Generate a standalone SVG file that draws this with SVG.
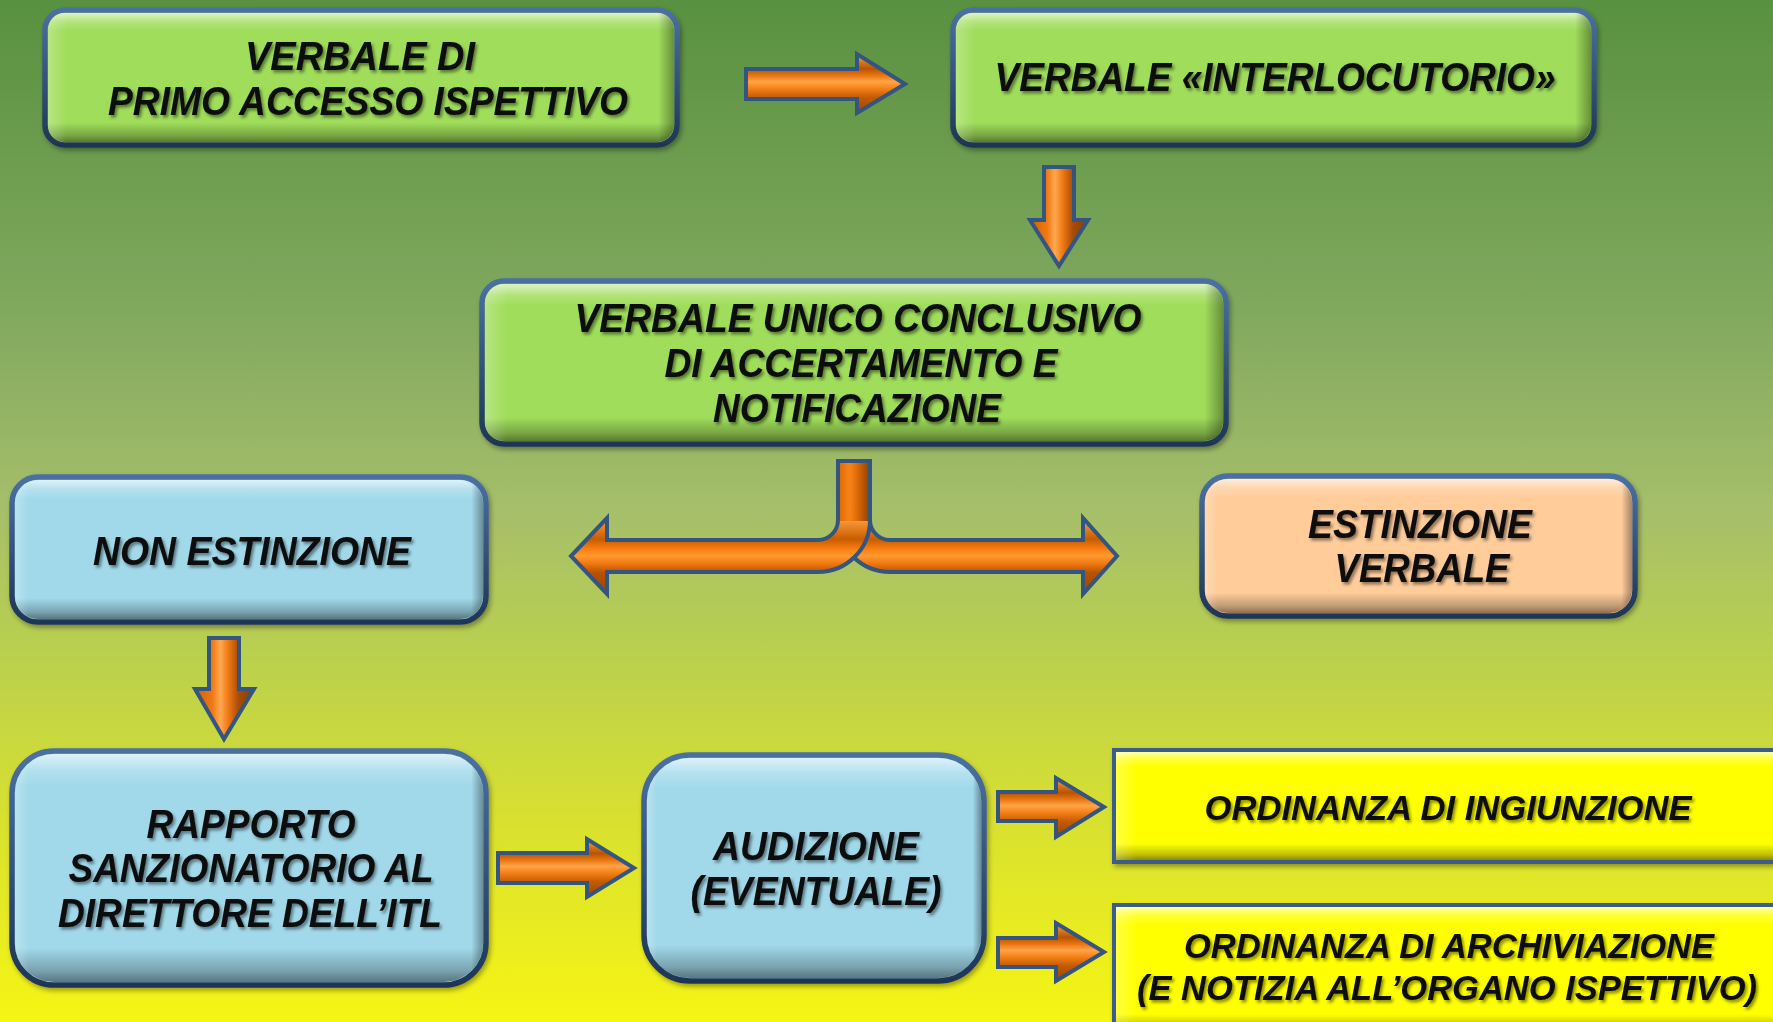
<svg xmlns="http://www.w3.org/2000/svg" width="1773" height="1022" viewBox="0 0 1773 1022">
<defs>
<style>
.box{stroke:url(#outl);stroke-width:5.5}
.green{fill:#9fdd5a}
.blue{fill:#a1d9ea}
.peach{fill:#ffcc9a}
.yellow{fill:#ffff00;stroke:#3b5d8c;stroke-width:4}
.bv{fill:url(#bevV)}
.bh{fill:url(#bevH)}
.t{font-family:"Liberation Sans Narrow","Liberation Sans",Arial,sans-serif;font-weight:bold;font-style:italic;font-size:40px;fill:#0b0b0b;text-anchor:middle}
.ty{font-size:35px}
.arr{stroke:#34557f;stroke-width:4;stroke-linejoin:miter}
.ah{fill:url(#agH)}
.av{fill:url(#agV)}
</style>
<linearGradient id="bg" x1="0" y1="0" x2="0" y2="1">
<stop offset="0" stop-color="#58913f"/>
<stop offset="0.3" stop-color="#80a85e"/>
<stop offset="0.5" stop-color="#a6bf6a"/>
<stop offset="0.63" stop-color="#b8cf50"/>
<stop offset="0.8" stop-color="#d8e030"/>
<stop offset="1" stop-color="#f6f514"/>
</linearGradient>
<linearGradient id="outl" x1="0" y1="0" x2="0" y2="1">
<stop offset="0" stop-color="#4a70a2"/>
<stop offset="1" stop-color="#1f3656"/>
</linearGradient>
<linearGradient id="bevV" x1="0" y1="0" x2="0" y2="1">
<stop offset="0" stop-color="#ffffff" stop-opacity="0.65"/>
<stop offset="0.07" stop-color="#ffffff" stop-opacity="0.2"/>
<stop offset="0.14" stop-color="#ffffff" stop-opacity="0"/>
<stop offset="0.85" stop-color="#000000" stop-opacity="0"/>
<stop offset="0.95" stop-color="#000000" stop-opacity="0.25"/>
<stop offset="1" stop-color="#000000" stop-opacity="0.45"/>
</linearGradient>
<linearGradient id="bevH" x1="0" y1="0" x2="1" y2="0">
<stop offset="0" stop-color="#ffffff" stop-opacity="0.25"/>
<stop offset="0.03" stop-color="#ffffff" stop-opacity="0"/>
<stop offset="0.975" stop-color="#000000" stop-opacity="0"/>
<stop offset="1" stop-color="#000000" stop-opacity="0.35"/>
</linearGradient>
<linearGradient id="agH" x1="0" y1="0" x2="0" y2="1">
<stop offset="0" stop-color="#ffa040"/>
<stop offset="0.25" stop-color="#b85400"/>
<stop offset="0.36" stop-color="#e87410"/>
<stop offset="0.47" stop-color="#ffa445"/>
<stop offset="0.58" stop-color="#f58218"/>
<stop offset="0.74" stop-color="#c45a00"/>
<stop offset="1" stop-color="#9a4600"/>
</linearGradient>
<linearGradient id="agV" x1="0" y1="0" x2="1" y2="0">
<stop offset="0" stop-color="#d06000"/>
<stop offset="0.3" stop-color="#f07a14"/>
<stop offset="0.43" stop-color="#ffa850"/>
<stop offset="0.56" stop-color="#f07a14"/>
<stop offset="0.74" stop-color="#a84c08"/>
<stop offset="1" stop-color="#8a3c00"/>
</linearGradient>
<linearGradient id="agSt" x1="0" y1="0" x2="1" y2="0">
<stop offset="0" stop-color="#e06c08"/>
<stop offset="0.35" stop-color="#f88418"/>
<stop offset="0.6" stop-color="#e06c08"/>
<stop offset="1" stop-color="#9a4600"/>
</linearGradient>
<linearGradient id="agS" gradientUnits="userSpaceOnUse" x1="0" y1="518" x2="0" y2="594">
<stop offset="0" stop-color="#ffa040"/>
<stop offset="0.28" stop-color="#c85c00"/>
<stop offset="0.4" stop-color="#f57c10"/>
<stop offset="0.5" stop-color="#ff9a30"/>
<stop offset="0.6" stop-color="#f07810"/>
<stop offset="0.72" stop-color="#b85200"/>
<stop offset="1" stop-color="#9a4600"/>
</linearGradient>
<filter id="bsh" x="-5%" y="-10%" width="110%" height="125%">
<feDropShadow dx="2" dy="3" stdDeviation="2.5" flood-color="#000" flood-opacity="0.35"/>
</filter>
<filter id="tsh" x="-5%" y="-20%" width="110%" height="140%">
<feDropShadow dx="2" dy="2.5" stdDeviation="1.6" flood-color="#000" flood-opacity="0.45"/>
</filter>
</defs>

<rect x="0" y="0" width="1773" height="1022" fill="url(#bg)"/>

<g id="connectors">
<path id="a1" class="arr ah" d="M746 69 L857 69 L857 54 L905 84 L857 113 L857 99 L746 99 Z"/>
<path id="a2" class="arr av" d="M1044 167 L1074 167 L1074 220 L1088 220 L1059 266 L1030 220 L1044 220 Z"/>
<g id="a3">
<path class="arr" fill="url(#agS)" d="M870 461 L838 461 L838 520 A52 52 0 0 0 890 572 L1083 572 L1083 594 L1117 556 L1083 518 L1083 540 L890 540 A20 20 0 0 1 870 520 Z"/>
<path class="arr" fill="url(#agS)" d="M838 461 L870 461 L870 520 A52 52 0 0 1 818 572 L607 572 L607 594 L571 556 L607 518 L607 540 L818 540 A20 20 0 0 0 838 520 Z"/>
<rect x="840" y="463" width="28" height="58" fill="url(#agSt)"/>
</g>
<path id="a7" class="arr av" d="M209 638 L239 638 L239 689 L254 689 L224 739 L195 689 L209 689 Z"/>
<path id="a4" class="arr ah" d="M498 853 L587 853 L587 839 L634 868 L587 897 L587 883 L498 883 Z"/>
<path id="a5" class="arr ah" d="M998 792 L1056 792 L1056 778 L1104 807 L1056 837 L1056 821 L998 821 Z"/>
<path id="a6" class="arr ah" d="M998 938 L1056 938 L1056 923 L1104 952 L1056 981 L1056 967 L998 967 Z"/>
</g>

<g id="n1">
<rect class="box green" x="45" y="10" width="632" height="135" rx="20" filter="url(#bsh)"/>
<rect class="bv" x="48" y="13" width="626" height="129" rx="17"/>
<rect class="bh" x="48" y="13" width="626" height="129" rx="17"/>
<g filter="url(#tsh)">
<text class="t" x="360" y="70" textLength="230" lengthAdjust="spacingAndGlyphs">VERBALE DI</text>
<text class="t" x="368" y="115" textLength="520" lengthAdjust="spacingAndGlyphs">PRIMO ACCESSO ISPETTIVO</text>
</g>
</g>

<g id="n2">
<rect class="box green" x="953" y="10" width="641" height="135" rx="20" filter="url(#bsh)"/>
<rect class="bv" x="956" y="13" width="635" height="129" rx="17"/>
<rect class="bh" x="956" y="13" width="635" height="129" rx="17"/>
<g filter="url(#tsh)">
<text class="t" x="1275" y="91" textLength="561" lengthAdjust="spacingAndGlyphs">VERBALE «INTERLOCUTORIO»</text>
</g>
</g>

<g id="n3">
<rect class="box green" x="482" y="281" width="744" height="163" rx="22" filter="url(#bsh)"/>
<rect class="bv" x="485" y="284" width="738" height="157" rx="19"/>
<rect class="bh" x="485" y="284" width="738" height="157" rx="19"/>
<g filter="url(#tsh)">
<text class="t" x="858" y="332" textLength="567" lengthAdjust="spacingAndGlyphs">VERBALE UNICO CONCLUSIVO</text>
<text class="t" x="861" y="377" textLength="393" lengthAdjust="spacingAndGlyphs">DI ACCERTAMENTO E</text>
<text class="t" x="857" y="422" textLength="288" lengthAdjust="spacingAndGlyphs">NOTIFICAZIONE</text>
</g>
</g>

<g id="n4">
<rect class="box blue" x="12" y="477" width="474" height="145" rx="26" filter="url(#bsh)"/>
<rect class="bv" x="15" y="480" width="468" height="139" rx="23"/>
<rect class="bh" x="15" y="480" width="468" height="139" rx="23"/>
<g filter="url(#tsh)">
<text class="t" x="252" y="565" textLength="318" lengthAdjust="spacingAndGlyphs">NON ESTINZIONE</text>
</g>
</g>

<g id="n5">
<rect class="box peach" x="1202" y="476" width="433" height="140" rx="26" filter="url(#bsh)"/>
<rect class="bv" x="1205" y="479" width="427" height="134" rx="23"/>
<rect class="bh" x="1205" y="479" width="427" height="134" rx="23"/>
<g filter="url(#tsh)">
<text class="t" x="1420" y="538" textLength="224" lengthAdjust="spacingAndGlyphs">ESTINZIONE</text>
<text class="t" x="1422" y="582" textLength="175" lengthAdjust="spacingAndGlyphs">VERBALE</text>
</g>
</g>

<g id="n6">
<rect class="box blue" x="12" y="751" width="474" height="234" rx="42" filter="url(#bsh)"/>
<rect class="bv" x="15" y="754" width="468" height="228" rx="39"/>
<rect class="bh" x="15" y="754" width="468" height="228" rx="39"/>
<g filter="url(#tsh)">
<text class="t" x="251" y="838" textLength="209" lengthAdjust="spacingAndGlyphs">RAPPORTO</text>
<text class="t" x="251" y="882" textLength="365" lengthAdjust="spacingAndGlyphs">SANZIONATORIO AL</text>
<text class="t" x="250" y="927" textLength="384" lengthAdjust="spacingAndGlyphs">DIRETTORE DELL’ITL</text>
</g>
</g>

<g id="n7">
<rect class="box blue" x="644" y="755" width="340" height="226" rx="46" filter="url(#bsh)"/>
<rect class="bv" x="647" y="758" width="334" height="220" rx="43"/>
<rect class="bh" x="647" y="758" width="334" height="220" rx="43"/>
<g filter="url(#tsh)">
<text class="t" x="816" y="860" textLength="206" lengthAdjust="spacingAndGlyphs">AUDIZIONE</text>
<text class="t" x="816" y="905" textLength="251" lengthAdjust="spacingAndGlyphs">(EVENTUALE)</text>
</g>
</g>

<g id="n8">
<rect class="yellow" x="1114" y="750" width="680" height="112" filter="url(#bsh)"/>
<rect class="bv" x="1116" y="752" width="676" height="108"/>
<rect class="bh" x="1116" y="752" width="676" height="108"/>
<g filter="url(#tsh)">
<text class="t ty" x="1448" y="820" textLength="487" lengthAdjust="spacingAndGlyphs">ORDINANZA DI INGIUNZIONE</text>
</g>
</g>

<g id="n9">
<rect class="yellow" x="1114" y="905" width="680" height="130" filter="url(#bsh)"/>
<rect class="bv" x="1116" y="907" width="676" height="126"/>
<rect class="bh" x="1116" y="907" width="676" height="126"/>
<g filter="url(#tsh)">
<text class="t ty" x="1449" y="958" textLength="530" lengthAdjust="spacingAndGlyphs">ORDINANZA DI ARCHIVIAZIONE</text>
<text class="t ty" x="1447" y="1000" textLength="620" lengthAdjust="spacingAndGlyphs">(E NOTIZIA ALL’ORGANO ISPETTIVO)</text>
</g>
</g>
</svg>
